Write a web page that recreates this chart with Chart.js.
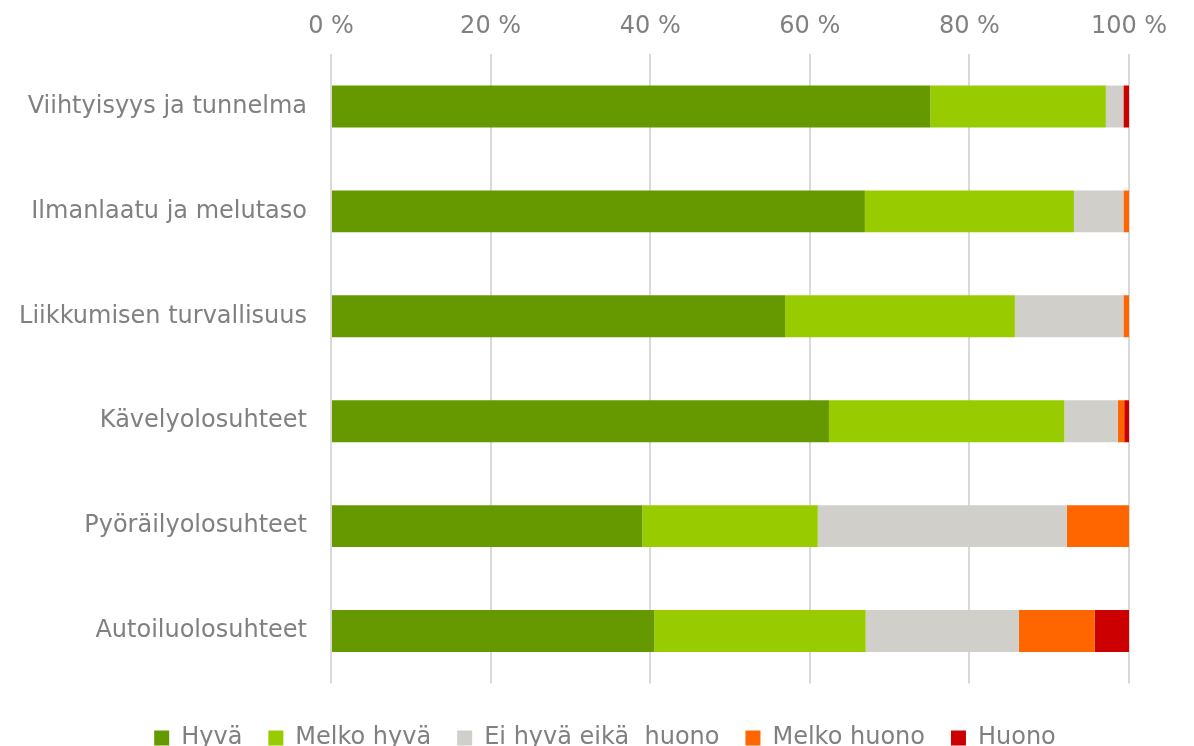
<!DOCTYPE html>
<html>
<head>
<meta charset="utf-8">
<script src="https://cdn.jsdelivr.net/npm/chart.js@4/dist/chart.umd.min.js"></script>
<style>
  html, body { margin: 0; padding: 0; background: #ffffff; overflow: hidden; }
  #wrap { width: 1194px; height: 760px; position: relative; }
</style>
</head>
<body>
<div id="wrap"><canvas id="c"></canvas></div>
<script>
const categories = ["Viihtyisyys ja tunnelma", "Ilmanlaatu ja melutaso", "Liikkumisen turvallisuus", "Kävelyolosuhteet", "Pyöräilyolosuhteet", "Autoiluolosuhteet"];
const seriesNames = ["Hyvä", "Melko hyvä", "Ei hyvä eikä  huono", "Melko huono", "Huono"];
const hyva       = [75.1, 66.9, 56.9, 62.4, 39.0, 40.5];
const melkoHyva  = [22.0, 26.2, 28.8, 29.5, 22.0, 26.5];
const eiHyvaEika = [2.2, 6.2, 13.6, 6.7, 31.2, 19.2];
const melkoHuono = [0.0, 0.7, 0.7, 0.8, 7.8, 9.5];
const huono      = [0.7, 0.0, 0.0, 0.6, 0.0, 4.3];
const tickValues = [0, 20, 40, 60, 80, 100];
const colors = ["#669900", "#99CC00", "#D0CFCA", "#FF6600", "#CC0000"];

const seriesData = [hyva, melkoHyva, eiHyvaEika, melkoHuono, huono];
const textColor = "#808080";
const fontFamily = "'DejaVu Sans', Verdana, sans-serif";

new Chart(document.getElementById("c"), {
  type: "bar",
  data: {
    labels: categories,
    datasets: seriesNames.map((name, i) => ({
      label: name,
      data: seriesData[i],
      backgroundColor: colors[i],
      borderWidth: 0,
      barPercentage: 0.4,
      categoryPercentage: 1.0
    }))
  },
  options: {
    indexAxis: "y",
    responsive: true,
    maintainAspectRatio: false,
    animation: false,
    layout: { padding: { left: 16, right: 0, top: 0, bottom: 0 } },
    scales: {
      x: {
        position: "top",
        stacked: true,
        min: 0,
        max: 100,
        afterBuildTicks: (scale) => { scale.ticks = tickValues.map(v => ({ value: v })); },
        afterFit: (scale) => { scale.height = 54; scale.paddingRight = 65; scale.paddingLeft = 0; },
        grid: { color: "#D9D9D9", lineWidth: 2, drawTicks: false },
        border: { display: false },
        ticks: {
          color: textColor,
          font: { family: fontFamily, size: 24 },
          padding: 13,
          callback: (v) => v + " %"
        }
      },
      xb: {
        position: "bottom",
        axis: "x",
        display: true,
        min: 0,
        max: 100,
        grid: { display: false, drawTicks: false },
        border: { display: false },
        ticks: { display: false },
        afterFit: (scale) => { scale.height = 16.5; scale.paddingRight = 65; scale.paddingLeft = 0; }
      },
      y: {
        stacked: true,
        afterFit: (scale) => { scale.width = 315; },
        grid: { display: false, drawTicks: false },
        border: { display: false },
        ticks: {
          color: textColor,
          font: { family: fontFamily, size: 24 },
          padding: 24
        }
      }
    },
    plugins: {
      legend: {
        position: "bottom",
        labels: {
          color: textColor,
          font: { family: fontFamily, size: 24 },
          boxWidth: 15,
          boxHeight: 15,
          padding: 26
        }
      },
      tooltip: { enabled: false }
    }
  }
});
</script>
</body>
</html>
